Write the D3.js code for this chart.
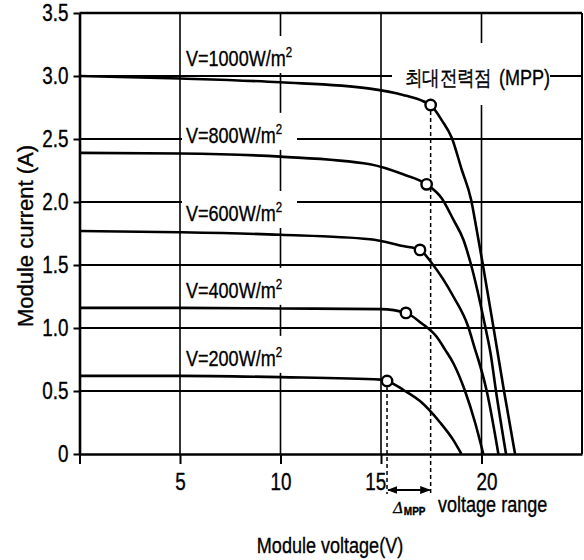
<html>
<head>
<meta charset="utf-8">
<script src="https://cdn.jsdelivr.net/npm/d3@7/dist/d3.min.js"></script>
<style>
  body { margin: 0; background: #fff; }
  text { font-family: "Liberation Sans", Arial, sans-serif; fill: #000; stroke: #000; stroke-width: 0.35; }
</style>
</head>
<body>
<svg width="584" height="560"></svg>
<script>
    // irradiance levels and their I-V curves (volt, amp)
    var irradiance = [1000, 800, 600, 400, 200]

    var v1000 = [0, 5, 10, 14.45, 16.1, 17.1, 17.47, 18.02, 18.52, 19.01, 19.48, 19.76, 20.06, 20.6, 21.12, 21.67]
    var i1000 = [3.0, 2.98, 2.95, 2.9, 2.85, 2.8, 2.77, 2.65, 2.51, 2.26, 2.02, 1.78, 1.51, 1.0, 0.5, 0]

    var v800 = [0, 5, 10, 14.45, 16.1, 17.27, 18.02, 18.6, 19.1, 19.45, 20.2, 20.45, 20.72, 21.22]
    var i800 = [2.39, 2.385, 2.36, 2.3, 2.22, 2.14, 2.03, 1.86, 1.7, 1.52, 1.0, 0.8, 0.5, 0]

    var v600 = [0, 5, 10, 14.45, 16.1, 16.94, 17.5, 18.6, 19.34, 19.68, 19.84, 20.26, 20.84]
    var i600 = [1.77, 1.76, 1.74, 1.705, 1.65, 1.62, 1.52, 1.25, 1.01, 0.83, 0.75, 0.5, 0]

    var v400 = [0, 5, 10, 15, 16.24, 17.0, 17.77, 18.18, 18.6, 19.18, 19.68, 20.09]
    var i400 = [1.16, 1.16, 1.155, 1.15, 1.12, 1.04, 0.93, 0.83, 0.72, 0.5, 0.25, 0]

    var v200 = [0, 5, 10, 15, 15.3, 16.1, 16.94, 17.94, 18.6, 19.0]
    var i200 = [0.62, 0.62, 0.61, 0.59, 0.58, 0.51, 0.42, 0.25, 0.11, 0]

    // maximum power points
    var mppV = [17.47, 17.27, 16.94, 16.24, 15.3]
    var mppI = [2.77, 2.14, 1.62, 1.12, 0.58]

    var xTicks = [0, 5, 10, 15, 20]
    var xTickLabels = ['', '5', '10', '15', '20']
    var yTicks = [0, 0.5, 1.0, 1.5, 2.0, 2.5, 3.0, 3.5]
    var yTickLabels = ['0', '0.5', '1.0', '1.5', '2.0', '2.5', '3.0', '3.5']
    var xGrid = [5, 10, 15, 20]
    var yGrid = [0.5, 1.0, 1.5, 2.0, 2.5, 3.0]

    var vols = [v1000, v800, v600, v400, v200]
    var amps = [i1000, i800, i600, i400, i200]
    var series = irradiance.map(function(g, k){
        return { g: g, pts: vols[k].map(function(v, j){ return [v, amps[k][j]] }), mpp: [mppV[k], mppI[k]] }
    })

    var SX = 0.82 // the original lettering is a narrow face

    var svg = d3.select('svg')
    var x = d3.scaleLinear().domain([0, 25]).range([79.5, 582])
    var y = d3.scaleLinear().domain([0, 3.5]).range([454, 13])

    // grid
    svg.append('g').selectAll('line').data(yGrid).enter().append('line')
        .attr('x1', x(0)).attr('x2', x(25))
        .attr('y1', function(d){ return y(d) }).attr('y2', function(d){ return y(d) })
        .attr('stroke', '#000').attr('stroke-width', 1.8)
    svg.append('g').selectAll('line').data(xGrid).enter().append('line')
        .attr('x1', function(d){ return x(d) }).attr('x2', function(d){ return x(d) })
        .attr('y1', y(3.5)).attr('y2', y(0))
        .attr('stroke', '#000').attr('stroke-width', 1.6)

    // white boxes behind the labels
    svg.append('g').selectAll('rect').data(series).enter().append('rect')
        .attr('x', 182).attr('width', 115)
        .attr('y', function(d){ return y(d.pts[0][1]) - 40 }).attr('height', 37)
        .attr('fill', '#fff')
    svg.append('rect').attr('x', 392).attr('y', 43).attr('width', 158).attr('height', 62).attr('fill', '#fff')

    // frame
    svg.append('line').attr('x1', x(0)).attr('x2', x(25)).attr('y1', y(3.5)).attr('y2', y(3.5))
        .attr('stroke', '#000').attr('stroke-width', 2.6)
    svg.append('line').attr('x1', x(25)).attr('x2', x(25)).attr('y1', y(3.5)).attr('y2', y(0))
        .attr('stroke', '#000').attr('stroke-width', 2)

    // dashed MPP range lines + arrow
    var lo = series[4].mpp, hi = series[0].mpp
    svg.append('g').selectAll('line').data([lo, hi]).enter().append('line')
        .attr('x1', function(d){ return x(d[0]) }).attr('x2', function(d){ return x(d[0]) })
        .attr('y1', function(d){ return y(d[1]) + 6 }).attr('y2', 494)
        .attr('stroke', '#000').attr('stroke-width', 1.5).attr('stroke-dasharray', '4,3')

    svg.append('defs').append('marker').attr('id', 'ah')
        .attr('viewBox', '0 0 8 8').attr('refX', 7).attr('refY', 4)
        .attr('markerWidth', 6).attr('markerHeight', 6).attr('orient', 'auto-start-reverse')
        .append('path').attr('d', 'M0,1 L8,4 L0,7 z').attr('fill', '#000')
    svg.append('line').attr('x1', x(lo[0]) + 1).attr('x2', x(hi[0]) - 1).attr('y1', 490).attr('y2', 490)
        .attr('stroke', '#000').attr('stroke-width', 1.8)
        .attr('marker-start', 'url(#ah)').attr('marker-end', 'url(#ah)')

    // curves
    var line = d3.line()
        .x(function(d){ return x(d[0]) })
        .y(function(d){ return y(d[1]) })
        .curve(d3.curveMonotoneX)
    svg.append('g').selectAll('path').data(series).enter().append('path')
        .attr('d', function(d){ return line(d.pts) })
        .attr('fill', 'none').attr('stroke', '#000').attr('stroke-width', 2.6)

    // axes
    var yAxis = svg.append('g').attr('transform', 'translate(' + x(0) + ',0)')
        .call(d3.axisLeft(y).tickValues(yTicks).tickSize(6).tickSizeOuter(0).tickPadding(7.5)
            .tickFormat(function(d, i){ return yTickLabels[i] }))
    var xAxis = svg.append('g').attr('transform', 'translate(0,' + y(0) + ')')
        .call(d3.axisBottom(x).tickValues(xTicks).tickSize(10).tickSizeOuter(0).tickPadding(10)
            .tickFormat(function(d, i){ return xTickLabels[i] }))
    svg.selectAll('.domain').attr('stroke-width', 2.6)
    svg.selectAll('.tick line').attr('stroke-width', 2)
    svg.selectAll('.tick text').attr('font-size', 23).attr('font-family', null).attr('fill', '#000')
        .attr('transform', 'scale(' + SX + ',1)')
    xAxis.selectAll('.tick text').attr('dx', function(d){ return d == 15 ? -7 : (d == 20 ? 6 : 0) })

    // MPP circles
    svg.append('g').selectAll('circle').data(series).enter().append('circle')
        .attr('cx', function(d){ return x(d.mpp[0]) }).attr('cy', function(d){ return y(d.mpp[1]) })
        .attr('r', 5.2).attr('fill', '#fff').attr('stroke', '#000').attr('stroke-width', 2.4)

    // irradiance labels
    svg.append('g').selectAll('text').data(series).enter().append('text')
        .attr('transform', function(d){ return 'translate(186,' + (y(d.pts[0][1]) - 10) + ') scale(' + SX + ',1)' })
        .attr('font-size', 22)
        .each(function(d){
            var t = d3.select(this)
            t.append('tspan').text('V=' + d.g + 'W/m')
            t.append('tspan').text('2').attr('font-size', 14).attr('dy', -9)
        })

    svg.append('text').attr('transform', 'translate(405,85) scale(0.84,1)')
        .attr('font-family', '"Noto Sans CJK KR"').attr('font-size', 21).text('최대전력점')
    svg.append('text').attr('transform', 'translate(494,85) scale(' + SX + ',1)')
        .attr('font-size', 22).text(' (MPP)').attr('xml:space', 'preserve')

    var dl = svg.append('text').attr('x', 393).attr('y', 513)
    dl.append('tspan').text('Δ').attr('font-family', '"DejaVu Serif"').attr('font-style', 'italic').attr('font-size', 15)
    dl.append('tspan').text('MPP').attr('font-size', 10).attr('font-weight', 'bold').attr('dy', 2)
    svg.append('text').attr('transform', 'translate(438,512) scale(' + SX + ',1)')
        .attr('font-size', 22).text('voltage range')

    // axis titles
    svg.append('text').attr('transform', 'translate(330,553) scale(' + SX + ',1)').attr('text-anchor', 'middle')
        .attr('font-size', 22).text('Module voltage(V)')
    svg.append('text').attr('transform', 'translate(33,236) rotate(-90)').attr('text-anchor', 'middle')
        .attr('font-family', '"DejaVu Sans"').attr('font-size', 22).text('Module current (A)')
</script>
</body>
</html>
